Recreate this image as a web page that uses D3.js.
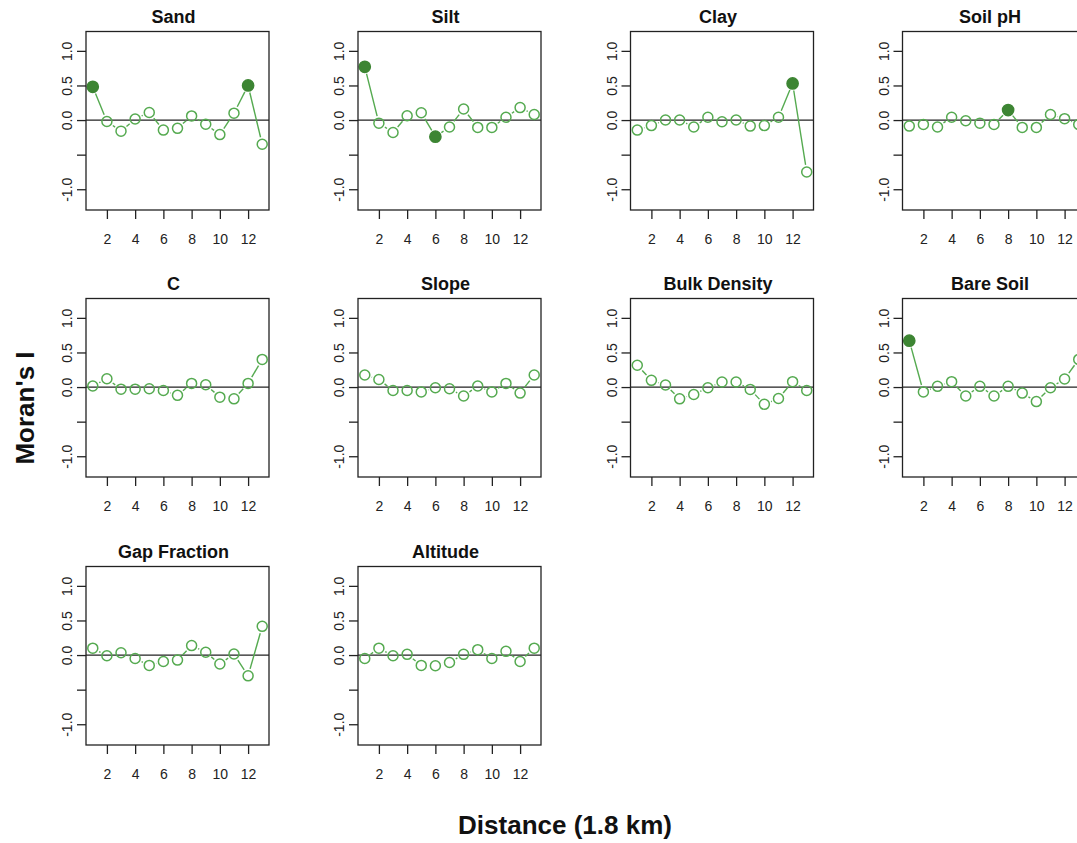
<!DOCTYPE html>
<html>
<head>
<meta charset="utf-8">
<script src="https://cdn.jsdelivr.net/npm/d3@7"></script>
<style>
  body { margin: 0; background: #fff; }
  svg { display: block; font-family: "Liberation Sans", Arial, Helvetica, sans-serif; }
</style>
</head>
<body>
<div id="chart"></div>
<script>
// 1: DATA
const lags = [1, 2, 3, 4, 5, 6, 7, 8, 9, 10, 11, 12, 13];
const xTicks = [2, 4, 6, 8, 10, 12];
const yTicks = [-1, -0.5, 0, 0.5, 1];
const yTickLabels = ["-1.0", "", "0.0", "0.5", "1.0"];

const panelNames = ["Sand", "Silt", "Clay", "Soil pH", "C", "Slope", "Bulk Density", "Bare Soil", "Gap Fraction", "Altitude"];

const sand = [0.48, -0.02, -0.16, 0.015, 0.11, -0.145, -0.12, 0.06, -0.06, -0.21, 0.10, 0.50, -0.35];
const silt = [0.77, -0.045, -0.18, 0.063, 0.106, -0.24, -0.10, 0.16, -0.106, -0.106, 0.04, 0.18, 0.08];
const clay = [-0.145, -0.08, 0.0, 0.0, -0.10, 0.04, -0.025, 0.0, -0.087, -0.08, 0.04, 0.53, -0.75];
const soilPH = [-0.087, -0.063, -0.10, 0.04, -0.01, -0.045, -0.063, 0.145, -0.106, -0.106, 0.08, 0.02, -0.063];
const carbon = [0.015, 0.12, -0.03, -0.03, -0.025, -0.05, -0.12, 0.053, 0.034, -0.146, -0.17, 0.053, 0.40];
const slope = [0.175, 0.11, -0.05, -0.05, -0.07, -0.01, -0.025, -0.13, 0.015, -0.07, 0.053, -0.087, 0.175];
const bulkDensity = [0.315, 0.097, 0.03, -0.17, -0.107, -0.01, 0.073, 0.073, -0.034, -0.25, -0.165, 0.078, -0.05];
const bareSoil = [0.67, -0.07, 0.01, 0.078, -0.13, 0.01, -0.13, 0.01, -0.087, -0.21, -0.01, 0.117, 0.40];
const gapFraction = [0.10, -0.01, 0.034, -0.05, -0.15, -0.093, -0.073, 0.137, 0.04, -0.13, 0.015, -0.30, 0.415];
const altitude = [-0.05, 0.10, -0.01, 0.01, -0.15, -0.155, -0.107, 0.01, 0.078, -0.05, 0.054, -0.093, 0.10];

// lags that are significant (drawn as filled points)
const sandSig = [1, 12];
const siltSig = [1, 6];
const claySig = [12];
const soilPHSig = [8];
const bareSoilSig = [1];

const panelValues = [sand, silt, clay, soilPH, carbon, slope, bulkDensity, bareSoil, gapFraction, altitude];
const panelSig = [sandSig, siltSig, claySig, soilPHSig, [], [], [], bareSoilSig, [], []];

// 2: LAYOUT
const W = 1077, H = 843;
const colLeft = [86, 358, 630.5, 902.5];
const rowTop = [31.5, 298.5, 566.5];
const boxW = 183, boxH = 178.5;
const openColor = "#55aa50";
const fillColor = "#3d8533";
const fontStack = "'Liberation Sans', Arial, Helvetica, sans-serif";

const svg = d3.select("#chart")
    .append("svg")
    .attr("width", W)
    .attr("height", H);

svg.append("rect").attr("width", W).attr("height", H).attr("fill", "#fff");

const xScale = d3.scaleLinear().domain([0.52, 13.48]).range([0, boxW]);
const yScale = d3.scaleLinear().domain([-1.3, 1.28]).range([boxH, 0]);

// 3: DRAW EACH PANEL
panelNames.forEach((name, idx) => {
    const col = idx % 4, row = Math.floor(idx / 4);
    const g = svg.append("g")
        .attr("transform", `translate(${colLeft[col]},${rowTop[row]})`);

    const values = panelValues[idx];
    const sig = panelSig[idx];
    const pts = lags.map((lag, i) => ({ lag, v: values[i], sig: sig.includes(lag) }));

    // zero line
    g.append("line")
        .attr("x1", 0).attr("x2", boxW)
        .attr("y1", yScale(0)).attr("y2", yScale(0))
        .attr("stroke", "#222").attr("stroke-width", 1.2);

    // connecting segments with gaps around points (type = "b")
    const gap = 7.2;
    for (let i = 0; i < pts.length - 1; i++) {
        const x0 = xScale(pts[i].lag), y0 = yScale(pts[i].v);
        const x1 = xScale(pts[i + 1].lag), y1 = yScale(pts[i + 1].v);
        const len = Math.hypot(x1 - x0, y1 - y0);
        if (len <= 2 * gap) continue;
        const ux = (x1 - x0) / len, uy = (y1 - y0) / len;
        g.append("line")
            .attr("x1", x0 + ux * gap).attr("y1", y0 + uy * gap)
            .attr("x2", x1 - ux * gap).attr("y2", y1 - uy * gap)
            .attr("stroke", openColor)
            .attr("stroke-width", 1.4);
    }

    // points
    g.selectAll("circle.pt")
        .data(pts)
        .join("circle")
        .attr("class", "pt")
        .attr("cx", d => xScale(d.lag))
        .attr("cy", d => yScale(d.v))
        .attr("r", d => d.sig ? 5.6 : 5)
        .attr("fill", d => d.sig ? fillColor : "none")
        .attr("stroke", d => d.sig ? fillColor : openColor)
        .attr("stroke-width", 1.5);

    // box
    g.append("rect")
        .attr("width", boxW).attr("height", boxH)
        .attr("fill", "none")
        .attr("stroke", "#222").attr("stroke-width", 1.3);

    // x axis
    const xAxis = g.append("g")
        .attr("transform", `translate(0,${boxH})`)
        .call(d3.axisBottom(xScale).tickValues(xTicks).tickSize(9).tickPadding(15));
    xAxis.select(".domain").remove();
    xAxis.selectAll("line").attr("stroke", "#222").attr("stroke-width", 1.3);
    xAxis.selectAll("text")
        .attr("fill", "#222")
        .style("font-size", "14px")
        .style("font-family", fontStack);

    // y axis
    const yAxis = g.append("g")
        .call(d3.axisLeft(yScale).tickValues(yTicks).tickSize(9)
            .tickFormat((d, i) => yTickLabels[i]));
    yAxis.select(".domain").remove();
    yAxis.selectAll("line").attr("stroke", "#222").attr("stroke-width", 1.3);
    yAxis.selectAll("text")
        .attr("fill", "#222")
        .attr("x", null).attr("dy", null)
        .attr("text-anchor", "middle")
        .attr("transform", "translate(-14,0) rotate(-90)")
        .style("font-size", "14px")
        .style("font-family", fontStack);

    // title
    g.append("text")
        .attr("x", boxW / 2 - 4)
        .attr("y", -8.5)
        .attr("text-anchor", "middle")
        .style("font-size", "18px")
        .style("font-weight", "bold")
        .attr("fill", "#111")
        .text(name);
});

// 4: AXIS TITLES
svg.append("text")
    .attr("transform", "translate(33.5,408) rotate(-90)")
    .attr("text-anchor", "middle")
    .style("font-size", "26px")
    .style("font-weight", "bold")
    .attr("fill", "#111")
    .text("Moran's I");

svg.append("text")
    .attr("x", 565)
    .attr("y", 834)
    .attr("text-anchor", "middle")
    .style("font-size", "26px")
    .style("font-weight", "bold")
    .attr("fill", "#111")
    .text("Distance (1.8 km)");
</script>
</body>
</html>
